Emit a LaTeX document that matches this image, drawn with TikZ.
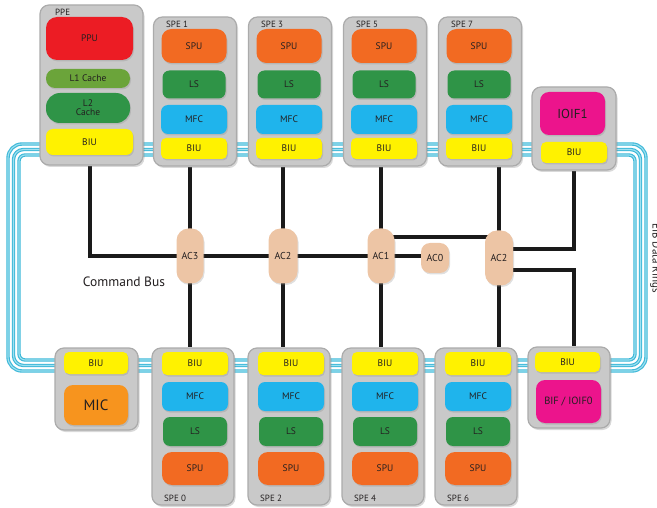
\documentclass[tikz,border=0pt]{standalone}
\usepackage{fontspec}
\setmainfont{PT Sans}
\usetikzlibrary{shadows,backgrounds}
\definecolor{contgray}{HTML}{C9C9C9}
\definecolor{contrim}{HTML}{ABABAB}
\definecolor{txt}{HTML}{231F20}
\definecolor{ppured}{HTML}{EC1C24}
\definecolor{lonegreen}{HTML}{6BA43A}
\definecolor{lsgreen}{HTML}{2F9447}
\definecolor{biuyellow}{HTML}{FFF200}
\definecolor{spuorange}{HTML}{F26A22}
\definecolor{mfccyan}{HTML}{1FB4EC}
\definecolor{ioifmag}{HTML}{EC148C}
\definecolor{micorange}{HTML}{F7941E}
\definecolor{actan}{HTML}{EDC5A5}
\definecolor{ringdark}{HTML}{3DB8D8}
\definecolor{ringlight}{HTML}{9FE0F0}
\definecolor{busblack}{HTML}{1A1A1A}
\begin{document}
\begin{tikzpicture}[x=1pt,y=-1pt,
  cont/.style={draw=contrim, line width=1.2pt, fill=contgray, rounded corners=9pt, inner sep=0pt,
    drop shadow={opacity=0.3, shadow xshift=1.5pt, shadow yshift=-2pt}},
  blk/.style={rounded corners=7pt, inner sep=0pt, text=txt, font=\fontsize{9.5}{10}\selectfont,
    drop shadow={opacity=0.25, shadow xshift=1pt, shadow yshift=-1.5pt}},
  acnode/.style={blk, fill=actan, rounded corners=12pt, minimum width=27pt, minimum height=55pt, font=\fontsize{10}{11}\selectfont},
  lbl/.style={inner sep=0pt, text=txt, font=\fontsize{9}{10}\selectfont, anchor=west},
  bus/.style={draw=busblack, line width=3.6pt},
  ring/.style={draw=ringdark, line width=1.15pt, double=ringlight, double distance=1.1pt}]
\useasboundingbox (0,0) rectangle (657,508);

% ---------- PPE ----------
\node[cont, minimum width=103pt, minimum height=160pt] (ppe) at (91.5,85) {};
\node[lbl] (ppelbl) at (55,12) {PPE};
\node[blk, fill=ppured, minimum width=87pt, minimum height=43pt, rounded corners=11pt] (ppu) at (89.5,38.5) {PPU};
\node[blk, fill=lonegreen, minimum width=84pt, minimum height=19pt, rounded corners=9pt] (lone) at (88,78.5) {L1 Cache};
\node[blk, fill=lsgreen, minimum width=84pt, minimum height=30pt, rounded corners=14pt, align=center] (ltwo) at (88,108) {L2\\[-1pt]Cache};
\node[blk, fill=biuyellow, minimum width=87pt, minimum height=26pt] (ppebiu) at (89.5,142) {BIU};

% ---------- top SPEs ----------
\foreach \n/\x in {1/195,3/290,5/385,7/480}{
  \node[cont, minimum width=83pt, minimum height=149pt] (spe\n) at (\x,91.5) {};
  \node[lbl] (spelbl\n) at (\x-29,24) {SPE \n};
  \node[blk, fill=spuorange, minimum width=65pt, minimum height=34pt, rounded corners=10pt] (spu\n) at (\x-1,46) {SPU};
  \node[blk, fill=lsgreen, minimum width=63pt, minimum height=28pt] (ls\n) at (\x-1,84.5) {LS};
  \node[blk, fill=mfccyan, minimum width=66pt, minimum height=29pt] (mfc\n) at (\x-1,119.5) {MFC};
  \node[blk, fill=biuyellow, minimum width=66pt, minimum height=21pt, rounded corners=5pt] (biu\n) at (\x-1,148.5) {BIU};
}

% ---------- IOIF1 ----------
\node[cont, minimum width=84pt, minimum height=83pt] (ioif) at (574,128.5) {};
\node[blk, fill=ioifmag, minimum width=65pt, minimum height=43pt, rounded corners=9pt, font=\fontsize{13}{14}\selectfont] (ioifbox) at (572.5,113.5) {IOIF1};
\node[blk, fill=biuyellow, minimum width=66pt, minimum height=21pt, rounded corners=5pt] (ioifbiu) at (574,152.5) {BIU};

% ---------- bottom SPEs ----------
\foreach \n/\x in {0/193,2/289,4/383,6/476}{
  \node[cont, minimum width=82pt, minimum height=157pt] (spe\n) at (\x,426.5) {};
  \node[lbl] (spelbl\n) at (\x-29,498) {SPE \n};
  \node[blk, fill=biuyellow, minimum width=66pt, minimum height=23pt, rounded corners=5pt] (biu\n) at (\x+2,363.5) {BIU};
  \node[blk, fill=mfccyan, minimum width=66pt, minimum height=29pt] (mfc\n) at (\x+2,396.5) {MFC};
  \node[blk, fill=lsgreen, minimum width=64pt, minimum height=29pt] (ls\n) at (\x+2,431.5) {LS};
  \node[blk, fill=spuorange, minimum width=66pt, minimum height=33pt, rounded corners=10pt] (spu\n) at (\x+2,468.5) {SPU};
}

% ---------- MIC ----------
\node[cont, minimum width=83pt, minimum height=82pt] (mic) at (96.5,389) {};
\node[blk, fill=biuyellow, minimum width=64pt, minimum height=22pt, rounded corners=5pt] (micbiu) at (96,363) {BIU};
\node[blk, fill=micorange, minimum width=64pt, minimum height=40pt, rounded corners=9pt, font=\fontsize{15}{16}\selectfont] (micbox) at (96,405) {MIC};

% ---------- BIF / IOIF0 ----------
\node[cont, minimum width=82pt, minimum height=81pt] (bif) at (569,387.5) {};
\node[blk, fill=biuyellow, minimum width=65pt, minimum height=20pt, rounded corners=5pt] (bifbiu) at (567.5,362) {BIU};
\node[blk, fill=ioifmag, minimum width=65pt, minimum height=43pt, rounded corners=9pt, font=\fontsize{10.5}{11}\selectfont] (bifbox) at (568.5,401.5) {BIF / IOIF0};

% ---------- arbiters ----------
\node[acnode] (ac3) at (190,256) {AC3};
\node[acnode, minimum width=29pt] (ac2a) at (283,256) {AC2};
\node[acnode] (ac1) at (381,256) {AC1};
\node[acnode, minimum width=28pt, minimum height=30pt, rounded corners=9pt] (ac0) at (435,258) {AC0};
\node[acnode, minimum width=28pt] (ac2b) at (499,258) {AC2};

% ---------- labels ----------
\node[inner sep=0pt, text=txt, font=\fontsize{13.5}{14}\selectfont] (cmdbus) at (124,282) {Command Bus};
\node[inner sep=0pt, text=txt, font=\fontsize{11}{12}\selectfont, rotate=-90, anchor=base] (eib) at (652.5,258) {EIB Data Rings};

% ---------- rings and buses (behind) ----------
\begin{pgfonlayer}{background}
  \draw[ring, rounded corners=14pt] (8,144) rectangle (646,371);
  \draw[ring, rounded corners=10pt] (13.5,149.5) rectangle (640.5,365.5);
  \draw[ring, rounded corners=6pt] (19,155) rectangle (635,360);

  \draw[bus] (ppe.south -| 90,0) |- (ac3.center) -- (ac2a.center) -- (ac1.center) -- (ac1.center -| ac0.center);
  \draw[bus] (spe1.south -| ac3.center) -- (spe0.north -| ac3.center);
  \draw[bus] (spe3.south -| ac2a.center) -- (spe2.north -| ac2a.center);
  \draw[bus] (spe5.south -| ac1.center) -- (spe4.north -| ac1.center);
  \draw[bus] (spe7.south -| ac2b.center) -- (spe6.north -| ac2b.center);
  \draw[bus] ([yshift=19pt]ac1.center) -- ([yshift=19pt]ac1.center -| ac2b.center);
  \draw[bus] ([yshift=9pt]ac2b.center) -| (ioif.south);
  \draw[bus] ([yshift=-12pt]ac2b.center) -| (bif.north -| ioif.south);
\end{pgfonlayer}
\end{tikzpicture}
\end{document}
